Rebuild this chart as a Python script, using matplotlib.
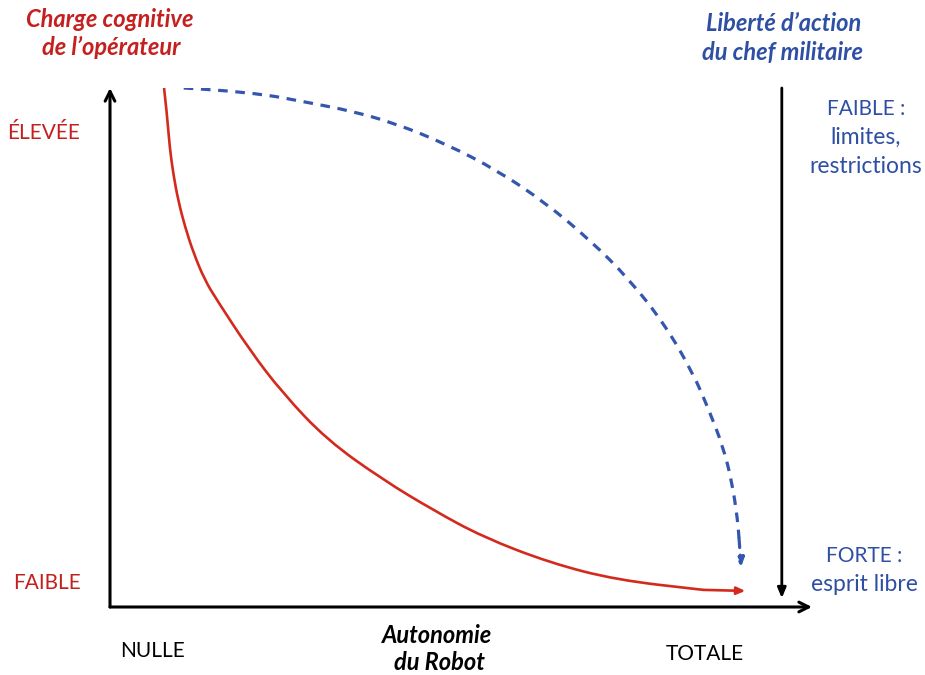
import matplotlib
matplotlib.use("Agg")
import matplotlib.pyplot as plt
from matplotlib.path import Path
from matplotlib.patches import PathPatch

W, H = 925, 675

# curve values (autonomie du robot 0..1, niveau 0..1)
charge_x = [0.077, 0.081, 0.085, 0.090, 0.097, 0.107, 0.119, 0.135, 0.152, 0.199,
            0.246, 0.309, 0.389, 0.460, 0.531, 0.627, 0.722, 0.845, 0.905]
charge_y = [1.000, 0.952, 0.886, 0.836, 0.784, 0.732, 0.682, 0.630, 0.592, 0.495,
            0.412, 0.322, 0.245, 0.187, 0.135, 0.085, 0.052, 0.033, 0.031]

liberte_x = [0.105, 0.199, 0.294, 0.342, 0.404, 0.479, 0.552, 0.620, 0.683, 0.740,
             0.791, 0.831, 0.853, 0.873, 0.886, 0.894, 0.896, 0.899]
liberte_y = [1.000, 0.993, 0.969, 0.956, 0.933, 0.892, 0.841, 0.779, 0.708, 0.631,
             0.543, 0.449, 0.380, 0.310, 0.241, 0.168, 0.133, 0.077]

RED = "#D42A1E"
RED_TXT = "#C4201F"
BLUE = "#3556AE"
BLUE_TXT = "#2E4FA3"
FONT = "Lato"

fig = plt.figure(figsize=(W / 100, H / 100), dpi=100)
ax = fig.add_axes([110 / W, 1 - 607 / H, 702 / W, 519 / H])
ax.set_xlim(0, 1)
ax.set_ylim(0, 1)
ax.axis("off")


def smooth_path(xs, ys):
    # quadratic bezier through the midpoints, read points used as controls
    pts = list(zip(xs, ys))
    verts = [pts[0]]
    codes = [Path.MOVETO]
    for i in range(1, len(pts) - 1):
        mid = ((pts[i][0] + pts[i + 1][0]) / 2, (pts[i][1] + pts[i + 1][1]) / 2)
        verts += [pts[i], mid]
        codes += [Path.CURVE3, Path.CURVE3]
    verts.append(pts[-1])
    codes.append(Path.LINETO)
    return Path(verts, codes)


# main axes with open arrow heads
axis_arrow = dict(arrowstyle="->,head_length=0.7,head_width=0.35", color="black",
                  lw=2.2, shrinkA=0, shrinkB=0)
ax.annotate("", xy=(1.0, 0), xytext=(0, 0), arrowprops=axis_arrow, annotation_clip=False)
ax.annotate("", xy=(0, 1.0), xytext=(0, 0), arrowprops=axis_arrow, annotation_clip=False)

# right axis, liberte d'action (down arrow)
right_arrow = dict(arrowstyle="-|>,head_length=0.6,head_width=0.25", color="black",
                   lw=2.0, shrinkA=0, shrinkB=0)
ax.annotate("", xy=(0.957, 0.017), xytext=(0.957, 1.0), arrowprops=right_arrow,
            annotation_clip=False)

# charge cognitive (red)
ax.add_patch(PathPatch(smooth_path(charge_x[:-1], charge_y[:-1]), fill=False,
                       edgecolor=RED, lw=1.9, capstyle="butt"))
ax.annotate("", xy=(charge_x[-1], charge_y[-1]), xytext=(charge_x[-2], charge_y[-2]),
            arrowprops=dict(arrowstyle="-|>,head_length=0.5,head_width=0.22",
                            color=RED, lw=1.9, shrinkA=0, shrinkB=0))

# liberte d'action (blue dashed)
ax.add_patch(PathPatch(smooth_path(liberte_x[:-1], liberte_y[:-1]), fill=False,
                       edgecolor=BLUE, lw=2.3, ls=(0, (3.0, 2.4))))
ax.annotate("", xy=(liberte_x[-1], liberte_y[-1]), xytext=(liberte_x[-2], liberte_y[-2]),
            arrowprops=dict(arrowstyle="-|>,head_length=0.5,head_width=0.22",
                            color=BLUE, lw=2.3, ls=(0, (3.0, 2.4)), shrinkA=0, shrinkB=0))


def label(px, py, s, color, size=15, weight="normal", style="normal"):
    fig.text(px / W, 1 - py / H, s, color=color, fontsize=size, fontweight=weight,
             fontstyle=style, family=FONT, ha="center", va="baseline")


label(110, 27, "Charge cognitive", RED_TXT, size=17, weight="bold", style="italic")
label(111, 55, "de l’opérateur", RED_TXT, size=17, weight="bold", style="italic")
label(44, 139, "ÉLEVÉE", RED_TXT)
label(47, 589, "FAIBLE", RED_TXT)

label(784, 31, "Liberté d’action", BLUE_TXT, size=17, weight="bold", style="italic")
label(783, 60, "du chef militaire", BLUE_TXT, size=17, weight="bold", style="italic")
label(866, 115, "FAIBLE :", BLUE_TXT)
label(866, 144, "limites,", BLUE_TXT, size=16.5)
label(866, 173, "restrictions", BLUE_TXT, size=16.5)
label(864, 562, "FORTE :", BLUE_TXT)
label(864, 591, "esprit libre", BLUE_TXT, size=16.5)

label(152, 657, "NULLE", "black")
label(437, 643, "Autonomie", "black", size=17, weight="bold", style="italic")
label(439, 670, "du Robot", "black", size=17, weight="bold", style="italic")
label(705, 660, "TOTALE", "black")

fig.savefig("out.png", dpi=100, facecolor="white")
